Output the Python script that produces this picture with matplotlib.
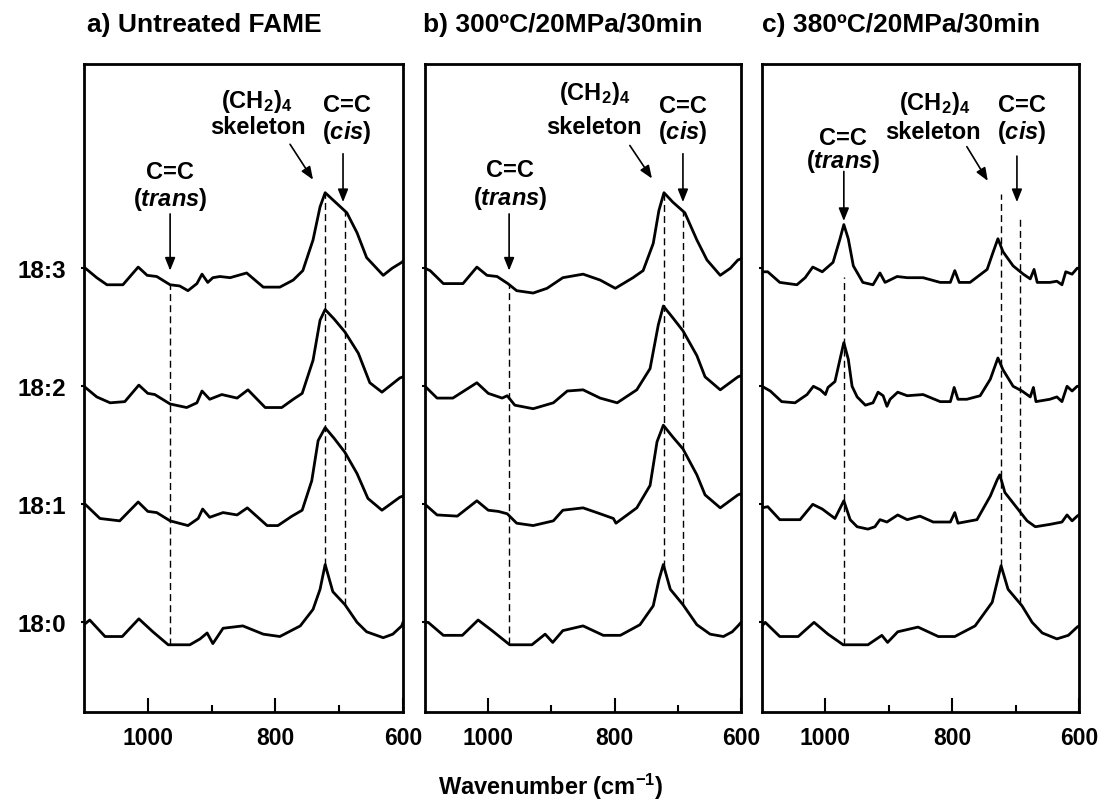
import numpy as np
import matplotlib.pyplot as plt

plt.rcParams['font.family'] = ['Liberation Sans', 'DejaVu Sans']
plt.rcParams['font.weight'] = 'bold'
plt.rcParams['mathtext.fontset'] = 'custom'
plt.rcParams['mathtext.rm'] = 'Liberation Sans:bold'
plt.rcParams['mathtext.bf'] = 'Liberation Sans:bold'
plt.rcParams['mathtext.it'] = 'Liberation Sans:bold:italic'

# ===============================
# Data
# ===============================

rows = ["18:0", "18:1", "18:2", "18:3"]
row_offsets = [0.76, 1.76, 2.76, 3.76]
titles = ["a) Untreated FAME", "b) 300\u00baC/20MPa/30min", "c) 380\u00baC/20MPa/30min"]

# panel a - untreated
a_wn_180 = [1100, 1091, 1067, 1040, 1014, 992, 968, 934, 918, 907, 898, 882, 851, 819, 793, 761, 741, 730, 722, 710, 691, 672, 657, 631, 616, 602, 600]
a_i_180 = [-0.02, 0.02, -0.12, -0.12, 0.03, -0.08, -0.19, -0.19, -0.14, -0.09, -0.18, -0.05, -0.03, -0.10, -0.12, -0.03, 0.11, 0.28, 0.49, 0.26, 0.15, 0.0, -0.08, -0.13, -0.10, -0.03, 0.0]
a_wn_181 = [1100, 1075, 1044, 1015, 1000, 986, 965, 937, 921, 914, 903, 882, 860, 844, 813, 796, 774, 758, 743, 733, 722, 708, 691, 672, 655, 633, 605, 600]
a_i_181 = [0.01, -0.12, -0.14, 0.02, -0.06, -0.07, -0.14, -0.18, -0.12, -0.04, -0.11, -0.07, -0.09, -0.03, -0.18, -0.18, -0.10, -0.05, 0.20, 0.54, 0.65, 0.56, 0.44, 0.26, 0.05, -0.05, 0.06, 0.07]
a_wn_182 = [1100, 1080, 1059, 1036, 1014, 1000, 989, 965, 939, 923, 915, 903, 884, 860, 843, 816, 790, 772, 758, 741, 730, 722, 708, 691, 670, 652, 633, 605, 600]
a_i_182 = [0.0, -0.09, -0.14, -0.13, 0.01, -0.06, -0.07, -0.15, -0.18, -0.14, -0.04, -0.11, -0.07, -0.10, -0.03, -0.18, -0.18, -0.11, -0.06, 0.22, 0.56, 0.65, 0.57, 0.46, 0.28, 0.03, -0.05, 0.07, 0.08]
a_wn_183 = [1100, 1080, 1064, 1039, 1015, 1001, 986, 965, 950, 937, 923, 915, 906, 898, 887, 871, 845, 819, 793, 772, 757, 741, 730, 722, 710, 688, 672, 657, 631, 617, 602, 600]
a_i_183 = [0.01, -0.08, -0.14, -0.14, 0.01, -0.06, -0.07, -0.14, -0.15, -0.19, -0.13, -0.05, -0.12, -0.08, -0.07, -0.08, -0.04, -0.16, -0.16, -0.10, -0.02, 0.24, 0.52, 0.64, 0.58, 0.47, 0.30, 0.09, -0.06, 0.0, 0.05, 0.06]

# panel b - 300 C
b_wn_180 = [1100, 1095, 1071, 1041, 1016, 994, 966, 931, 910, 898, 882, 850, 818, 791, 760, 739, 730, 723, 712, 692, 670, 649, 628, 614, 605, 600]
b_i_180 = [0.0, 0.0, -0.11, -0.11, 0.02, -0.07, -0.19, -0.19, -0.10, -0.17, -0.07, -0.03, -0.11, -0.11, -0.02, 0.14, 0.36, 0.49, 0.28, 0.15, -0.02, -0.10, -0.12, -0.08, -0.03, 0.0]
b_wn_181 = [1100, 1081, 1049, 1018, 1000, 984, 970, 955, 929, 897, 882, 850, 823, 802, 798, 765, 744, 733, 723, 708, 692, 670, 657, 633, 605, 600]
b_i_181 = [0.0, -0.09, -0.10, 0.03, -0.05, -0.06, -0.08, -0.16, -0.18, -0.14, -0.05, -0.03, -0.08, -0.12, -0.16, -0.03, 0.16, 0.53, 0.67, 0.57, 0.47, 0.25, 0.08, -0.03, 0.08, 0.09]
b_wn_182 = [1100, 1081, 1056, 1018, 1000, 978, 970, 958, 929, 897, 875, 850, 823, 796, 765, 744, 731, 723, 708, 692, 670, 657, 633, 605, 600]
b_i_182 = [0.0, -0.10, -0.10, 0.03, -0.06, -0.10, -0.08, -0.16, -0.19, -0.14, -0.04, -0.03, -0.10, -0.14, -0.03, 0.15, 0.52, 0.68, 0.58, 0.47, 0.26, 0.08, -0.03, 0.08, 0.09]
b_wn_183 = [1100, 1092, 1071, 1040, 1018, 1002, 986, 969, 955, 929, 907, 882, 850, 823, 799, 771, 755, 739, 730, 722, 708, 689, 670, 654, 633, 617, 605, 600]
b_i_183 = [0.0, -0.02, -0.13, -0.13, 0.01, -0.06, -0.07, -0.13, -0.19, -0.21, -0.17, -0.08, -0.05, -0.10, -0.17, -0.08, -0.02, 0.21, 0.49, 0.64, 0.56, 0.47, 0.24, 0.07, -0.06, 0.0, 0.07, 0.08]

# panel c - 380 C
c_wn_180 = [1100, 1095, 1072, 1043, 1018, 996, 972, 933, 911, 902, 886, 854, 822, 796, 764, 737, 723, 712, 690, 674, 658, 635, 617, 603, 600]
c_i_180 = [-0.03, 0.0, -0.12, -0.12, 0.0, -0.10, -0.19, -0.19, -0.11, -0.17, -0.08, -0.04, -0.12, -0.12, -0.03, 0.17, 0.48, 0.28, 0.14, 0.0, -0.09, -0.14, -0.11, -0.04, -0.03]
c_wn_181 = [1100, 1091, 1072, 1040, 1020, 1005, 985, 971, 961, 950, 933, 922, 914, 903, 886, 871, 851, 830, 803, 796, 791, 761, 740, 729, 725, 717, 698, 682, 669, 646, 627, 619, 611, 603, 600]
c_i_181 = [-0.03, -0.02, -0.13, -0.13, 0.0, -0.04, -0.12, 0.03, -0.13, -0.19, -0.21, -0.19, -0.13, -0.15, -0.09, -0.13, -0.10, -0.15, -0.15, -0.07, -0.16, -0.13, 0.07, 0.21, 0.25, 0.10, -0.03, -0.14, -0.19, -0.17, -0.15, -0.09, -0.14, -0.10, -0.09]
c_wn_182 = [1100, 1087, 1069, 1048, 1029, 1019, 1008, 1000, 996, 985, 977, 971, 964, 958, 950, 937, 925, 917, 909, 903, 898, 886, 871, 846, 819, 803, 797, 791, 777, 756, 740, 728, 720, 704, 690, 677, 672, 668, 646, 635, 627, 619, 611, 603, 600]
c_i_182 = [0.0, -0.04, -0.13, -0.14, -0.07, 0.0, -0.03, -0.07, -0.01, 0.04, 0.23, 0.37, 0.23, 0.0, -0.09, -0.16, -0.14, -0.05, -0.08, -0.17, -0.11, -0.05, -0.08, -0.07, -0.13, -0.13, -0.01, -0.11, -0.11, -0.08, 0.06, 0.24, 0.14, 0.0, -0.04, -0.09, -0.01, -0.13, -0.11, -0.09, -0.13, 0.0, -0.04, 0.0, 0.0]
c_wn_183 = [1100, 1091, 1072, 1045, 1032, 1020, 1005, 988, 977, 971, 964, 956, 941, 925, 914, 906, 887, 871, 846, 819, 803, 796, 789, 772, 745, 736, 728, 720, 704, 688, 677, 671, 666, 646, 635, 627, 621, 611, 603, 600]
c_i_183 = [-0.03, -0.03, -0.12, -0.14, -0.08, 0.01, -0.03, 0.05, 0.25, 0.37, 0.25, 0.02, -0.12, -0.14, -0.04, -0.12, -0.07, -0.08, -0.08, -0.12, -0.12, -0.02, -0.12, -0.12, -0.01, 0.13, 0.25, 0.14, 0.02, -0.05, -0.09, -0.01, -0.12, -0.12, -0.11, -0.14, -0.03, -0.05, 0.0, 0.0]

# band positions (cm-1) marked with dashed lines: trans, (CH2)4 skeleton, cis
a_bands = [965, 722, 691]
b_bands = [967, 722, 692]
c_bands = [971, 723, 693]

panels = [
    ([(a_wn_180, a_i_180), (a_wn_181, a_i_181), (a_wn_182, a_i_182), (a_wn_183, a_i_183)], a_bands),
    ([(b_wn_180, b_i_180), (b_wn_181, b_i_181), (b_wn_182, b_i_182), (b_wn_183, b_i_183)], b_bands),
    ([(c_wn_180, c_i_180), (c_wn_181, c_i_181), (c_wn_182, c_i_182), (c_wn_183, c_i_183)], c_bands),
]

# ===============================
# Layout
# ===============================

fig = plt.figure(figsize=(11.02, 8.03), dpi=100)
lefts = [0.0762, 0.3857, 0.6915]
widths = [0.2895, 0.2868, 0.2877]
title_x = [0.079, 0.384, 0.6915]

FS = 17
dash = (0, (5, 3))

trans_txt = r"($\mathit{trans}$)"
cis_txt = r"($\mathit{cis}$)"
ch2_txt = r"(CH$_2$)$_4$"

annots = [
    # label texts, arrows
    ([("C=C", 965, 4.58), (trans_txt, 965, 4.35), (ch2_txt, 829, 5.18), ("skeleton", 827, 4.96),
      ("C=C", 688, 5.15), (cis_txt, 688, 4.92)],
     [((965, 4.22), (965, 3.74)), ((777, 4.81), (741, 4.51)), ((694, 4.73), (694, 4.32))]),
    ([("C=C", 966, 4.60), (trans_txt, 966, 4.36), (ch2_txt, 831, 5.25), ("skeleton", 833, 4.96),
      ("C=C", 692, 5.14), (cis_txt, 692, 4.92)],
     [((967, 4.22), (967, 3.74)), ((776, 4.80), (741, 4.52)), ((692, 4.73), (692, 4.32))]),
    ([("C=C", 972, 4.87), (trans_txt, 972, 4.67), (ch2_txt, 827, 5.16), ("skeleton", 830, 4.92),
      ("C=C", 690, 5.15), (cis_txt, 690, 4.92)],
     [((971, 4.58), (971, 4.16)), ((777, 4.79), (744, 4.50)), ((698, 4.71), (698, 4.32))]),
]

for p, (spectra, bands) in enumerate(panels):
    ax = fig.add_axes([lefts[p], 0.112, widths[p], 0.807])

    for k, (wn, inten) in enumerate(spectra):
        ax.plot(wn, np.array(inten) + row_offsets[k], color="black", lw=2.0)

    # dashed guide lines from the 18:0 trace up to the 18:3 trace
    wn0, i0 = spectra[0]
    wn3, i3 = spectra[3]
    for j, b in enumerate(bands):
        y_bot = np.interp(b, wn0[::-1], i0[::-1]) + row_offsets[0]
        if p < 2:
            y_top = np.interp(b, wn3[::-1], i3[::-1]) + row_offsets[3]
        else:
            y_top = [3.69, 4.39, 4.20][j]
        ax.plot([b, b], [y_bot, y_top], color="black", lw=1.0, ls=dash)

    texts, arrows = annots[p]
    for s, x, y in texts:
        ax.text(x, y, s, ha="center", va="center", fontsize=FS, fontweight="bold")
    for (x0, y0), (x1, y1) in arrows:
        ax.annotate("", xy=(x1, y1), xytext=(x0, y0),
                    arrowprops=dict(arrowstyle="-|>,head_length=0.55,head_width=0.22",
                                    color="black", lw=1.2, mutation_scale=14,
                                    shrinkA=0, shrinkB=0))

    ax.set_xlim(1100, 600)
    ax.set_ylim(0, 5.49)
    ax.set_xticks([1000, 800, 600])
    ax.set_xticks([900, 700], minor=True)
    ax.tick_params(axis="x", which="major", direction="in", length=10, width=1.5,
                   labelsize=16.5, pad=10)
    ax.tick_params(axis="x", which="minor", direction="in", length=5, width=1.5)
    ax.set_yticks(row_offsets)
    if p == 0:
        ax.set_yticklabels(rows, fontsize=17.5, fontweight="bold")
    else:
        ax.set_yticklabels([])
    ax.tick_params(axis="y", direction="out", length=2, width=1.5, pad=11)
    for lab in ax.get_xticklabels():
        lab.set_fontweight("bold")
    for sp in ax.spines.values():
        sp.set_linewidth(2.0)

    fig.text(title_x[p], 1 - 25 / 803, titles[p], ha="left", va="center",
             fontsize=19, fontweight="bold")

fig.text(0.5, 1 - 787 / 803, r"Wavenumber (cm$^{-1}$)", ha="center", va="center",
         fontsize=17, fontweight="bold")

fig.savefig("out.png", dpi=100)
